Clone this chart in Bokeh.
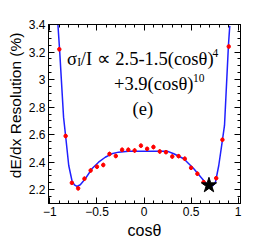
from bokeh.plotting import figure
from bokeh.models import (LinearAxis, FixedTicker, CustomJSTickFormatter, Label,
                          Range1d)
from bokeh.embed import file_html
from bokeh.resources import INLINE
import numpy as np

# ---- data ----
cos_bins = [-0.9, -0.833, -0.767, -0.7, -0.633, -0.567, -0.5, -0.433, -0.367,
            -0.3, -0.233, -0.167, -0.1, -0.033, 0.033, 0.1, 0.167, 0.233, 0.3,
            0.367, 0.433, 0.5, 0.567, 0.633, 0.7, 0.767, 0.833, 0.9]
resolution = [3.22, 2.59, 2.25, 2.21, 2.28, 2.34, 2.367, 2.38, 2.46,
              2.445, 2.49, 2.49, 2.485, 2.52, 2.497, 2.51, 2.478, 2.473, 2.441,
              2.444, 2.425, 2.359, 2.316, 2.255, 2.23, 2.284, 2.563, 3.24]
res_err = [0.016] * len(cos_bins)

fit_x = [-0.915, -0.897, -0.855, -0.83, -0.80, -0.766, -0.74, -0.713, -0.677,
         -0.624, -0.554, -0.483, -0.412, -0.342, -0.271, -0.165, -0.023, 0.1,
         0.246, 0.316, 0.422, 0.529, 0.618, 0.671, 0.724, 0.759, 0.794, 0.83,
         0.855, 0.897, 0.911]
fit_y = [3.40, 3.216, 2.727, 2.57, 2.376, 2.267, 2.235, 2.224, 2.236,
         2.28, 2.352, 2.40, 2.436, 2.461, 2.473, 2.48, 2.48, 2.48,
         2.48, 2.461, 2.425, 2.352, 2.28, 2.236, 2.226, 2.255, 2.376, 2.545,
         2.667, 3.25, 3.39]

star_x = [0.69]
star_y = [2.232]

x_ticks = [-1, -0.5, 0, 0.5, 1]
x_tick_labels = ["\u22121", "\u22120.5", "0", "0.5", "1"]
y_ticks = [2.2, 2.4, 2.6, 2.8, 3.0, 3.2, 3.4]
y_tick_labels = ["2.2", "2.4", "2.6", "2.8", "3", "3.2", "3.4"]

x_minor = [round(v, 2) for v in np.arange(-1.0, 1.05, 0.1)]
y_minor = [round(v, 2) for v in np.arange(2.1, 3.45, 0.05)]

p = figure(width=266, height=242, x_range=Range1d(-1.015, 1.025),
           y_range=Range1d(2.1, 3.4), output_backend="svg",
           toolbar_location=None, min_border_left=48, min_border_right=26,
           min_border_top=24, min_border_bottom=39)
p.xgrid.visible = False
p.ygrid.visible = False
p.outline_line_color = "black"
p.background_fill_color = "white"
p.border_fill_color = "white"

xt = FixedTicker(ticks=x_ticks, minor_ticks=x_minor)
yt = FixedTicker(ticks=y_ticks, minor_ticks=y_minor)
blank = CustomJSTickFormatter(code="return ''")


def style(ax):
    ax.major_tick_in = 6
    ax.major_tick_out = 0
    ax.minor_tick_in = 3
    ax.minor_tick_out = 0
    ax.axis_line_color = "black"
    ax.major_tick_line_color = "black"
    ax.minor_tick_line_color = "black"
    ax.major_label_text_font = "Liberation Sans"
    ax.major_label_text_font_size = "12px"
    ax.major_label_text_color = "black"
    ax.axis_label_text_font = "Liberation Sans"
    ax.axis_label_text_font_style = "normal"
    ax.axis_label_text_color = "black"


xa = p.xaxis[0]
xa.ticker = xt
xa.major_label_overrides = dict(zip(x_ticks, x_tick_labels))
xa.axis_label = "cos\u03b8"
xa.axis_label_text_font_size = "16px"
xa.major_label_standoff = 3
xa.axis_label_standoff = 3
style(xa)

ya = p.yaxis[0]
ya.ticker = yt
ya.major_label_overrides = dict(zip(y_ticks, y_tick_labels))
ya.major_label_standoff = 3
# leading no-break spaces push the visible title towards the top of the axis
ya.axis_label = "\u00a0\u00a0\u00a0\u00a0dE/dx Resolution (%)"
ya.axis_label_text_font_size = "15.5px"
ya.axis_label_standoff = 2
style(ya)

top = LinearAxis(ticker=xt, formatter=blank, major_label_standoff=0)
style(top)
p.add_layout(top, "above")
right = LinearAxis(ticker=yt, formatter=blank, major_label_standoff=0)
style(right)
p.add_layout(right, "right")

# fit curve
p.line(fit_x, fit_y, line_color="#2020ff", line_width=1.5)
# error bars + points
lo = [r - e for r, e in zip(resolution, res_err)]
hi = [r + e for r, e in zip(resolution, res_err)]
p.segment(cos_bins, lo, cos_bins, hi, line_color="red", line_width=1.2)
p.scatter(cos_bins, resolution, marker="circle", size=3.5, color="red")
# star
p.scatter(star_x, star_y, marker="star", size=16, fill_color="black",
          line_color="black")

serif = "Liberation Serif"


def lab(x, y, t, size):
    p.add_layout(Label(x=x, y=y, text=t, text_font=serif,
                       text_font_size=size, text_color="black",
                       text_baseline="alphabetic", text_align="left"))


lab(-0.818, 3.153, "\u03c3", "18.5px")
lab(-0.710, 3.131, "I", "11.5px")
lab(-0.672, 3.153, "/I \u221d 2.5-1.5(cos\u03b8)", "18.5px")
lab(0.728, 3.193, "4", "11.5px")
lab(-0.319, 2.968, "+3.9(cos\u03b8)", "18.5px")
lab(0.521, 3.011, "10", "11.5px")
lab(-0.122, 2.783, "(e)", "18.5px")

open("out.html", "w").write(file_html(p, INLINE))
